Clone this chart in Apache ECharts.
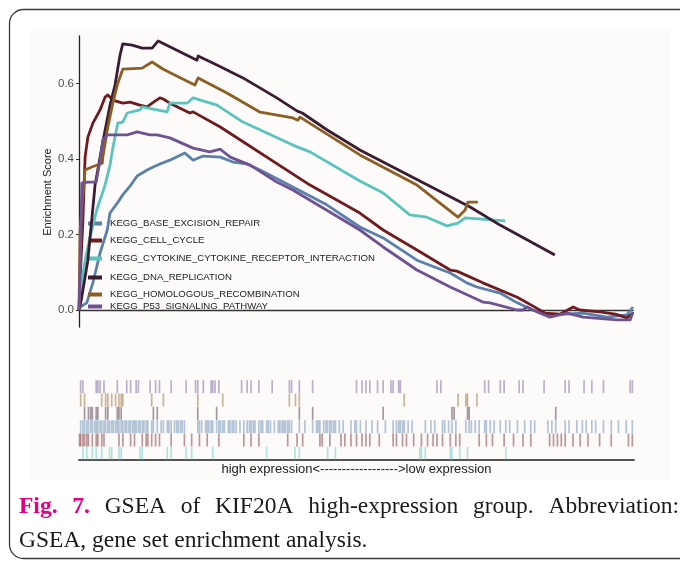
<!DOCTYPE html>
<html>
<head>
<meta charset="utf-8">
<script src="https://cdn.jsdelivr.net/npm/echarts@6/dist/echarts.min.js"></script>
<style>
  html, body { margin: 0; padding: 0; background: #fff; }
  #chart { width: 680px; height: 562px; }
</style>
</head>
<body>
<div id="chart"></div>
<script>
// gene sets, in legend order
const setNames = [
  'KEGG_BASE_EXCISION_REPAIR',
  'KEGG_CELL_CYCLE',
  'KEGG_CYTOKINE_CYTOKINE_RECEPTOR_INTERACTION',
  'KEGG_DNA_REPLICATION',
  'KEGG_HOMOLOGOUS_RECOMBINATION',
  'KEGG_P53_SIGNALING_PATHWAY'
]
const setColors = ['#5a80ab', '#6e1c20', '#5bc3bd', '#3b1c31', '#8d5e23', '#6f5290']

// running enrichment score: x = position in ranked list (%), y = ES
const baseX = [0,0.2,1.4,2.5,3.8,5.1,5.6,6.9,7.9,9.2,10.5,12.3,13.4,14.6,16.4,19.1,20.6,22.4,25.5,27.8,30.3,32.7,38.6,44.8,50.7,54.9,61.0,67.0,70.0,71.8,76.0,79.1,81.9,85.0,91.0,95.3,98.9,100]
const baseY = [0,0.008,0.019,0.072,0.151,0.212,0.257,0.283,0.305,0.328,0.355,0.371,0.379,0.387,0.397,0.416,0.397,0.408,0.405,0.392,0.387,0.371,0.326,0.278,0.220,0.191,0.132,0.098,0.072,0.061,0.045,0.019,0,-0.013,-0.008,-0.019,-0.013,0.008]

const cellX = [0,0.2,0.7,1.1,1.6,2.5,3.8,4.7,5.2,6.1,7.9,9.2,11.0,12.3,13.2,14.6,15.2,16.4,20.0,20.6,25.5,41.7,50.7,54.9,61.0,67.0,68.2,72.9,79.1,81.9,84.1,86.8,89.2,90.4,94.0,96.8,98.9,100]
const cellY = [0,0.079,0.238,0.405,0.458,0.495,0.530,0.564,0.570,0.556,0.548,0.551,0.543,0.538,0.548,0.562,0.559,0.548,0.522,0.525,0.485,0.331,0.257,0.212,0.159,0.106,0.103,0.072,0.034,0.011,-0.008,-0.011,0.008,0,-0.005,-0.011,-0.021,-0.008]

const cytoX = [0,0.5,1.3,2.0,3.2,4.7,5.6,6.1,7.0,7.9,8.7,11.0,11.4,15.9,16.4,19.5,20.6,24.9,29.6,38.6,41.7,50.7,54.9,59.7,62.8,66.4,68.4,69.7,76.9]
const cytoY = [0,0.079,0.146,0.193,0.265,0.331,0.384,0.429,0.495,0.498,0.522,0.530,0.538,0.525,0.548,0.548,0.562,0.543,0.498,0.437,0.419,0.342,0.310,0.252,0.246,0.223,0.230,0.244,0.236]

const dnaX = [0,0.4,1.6,2.9,4.3,5.6,6.5,7.4,7.9,9.6,11.4,13.2,14.3,21.3,21.5,24.9,29.6,35.7,39.4,40.3,44.8,50.7,70.6,76.0,85.9]
const dnaY = [0,0.026,0.132,0.331,0.445,0.543,0.596,0.675,0.705,0.702,0.694,0.694,0.713,0.662,0.673,0.649,0.615,0.562,0.527,0.522,0.477,0.424,0.273,0.225,0.146]

const homoX = [0,0.2,1.1,2.3,4.2,4.3,5.1,6.1,7.0,7.9,11.4,13.2,15.2,20.9,21.5,26.7,32.7,38.6,39.5,39.9,50.7,61.0,68.4,69.7,70.2,72.0]
const homoY = [0,0.212,0.371,0.379,0.389,0.405,0.477,0.548,0.601,0.638,0.641,0.657,0.638,0.596,0.615,0.575,0.524,0.509,0.503,0.511,0.411,0.331,0.246,0.265,0.286,0.286]

const p53X = [0,0.2,0.4,0.5,1.6,3.1,3.8,4.3,5.1,8.7,10.5,12.8,14.1,16.4,20.6,23.6,25.5,27.3,30.9,35.7,38.6,50.7,54.9,61.0,67.0,72.9,74.2,79.1,80.1,80.9,82.7,85.0,88.1,91.0,97.1,99.5,100]
const p53Y = [0,0.106,0.238,0.336,0.339,0.339,0.397,0.450,0.464,0.464,0.472,0.464,0.464,0.456,0.429,0.419,0.426,0.405,0.384,0.339,0.318,0.212,0.167,0.106,0.061,0.021,0.019,0,0,0.008,-0.005,-0.019,-0.008,-0.019,-0.026,-0.026,-0.005]

// hit positions (%) for the rug rows
const p53Hits = [0.3,0.7,3.1,3.4,3.8,4.5,6.9,8.6,9.3,10.3,10.7,12.8,13.8,14.5,16.6,19.3,21.0,21.4,22.4,23.8,24.1,24.5,25.2,29.3,30.3,31.0,32.4,34.8,37.9,38.3,39.7,42.1,50.0,51.0,51.7,52.4,53.8,54.8,56.2,56.6,57.6,57.9,64.5,65.2,73.1,73.8,75.9,76.6,79.3,80.0,83.8,87.6,88.3,91.0,92.4,94.5,99.3,99.7]
const homoHits = [0.3,1.0,4.1,4.8,5.2,5.9,6.6,7.2,7.6,7.9,13.1,15.2,21.4,25.9,37.9,39.0,39.7,58.6,68.3,69.7,70.0,71.7]
const dnaHits = [1.0,1.7,2.1,2.4,3.1,3.4,4.8,5.2,6.9,7.2,7.6,13.4,14.1,21.4,24.8,39.7,42.1,54.8,67.2,67.6,70.0,70.3,85.9]
const baseHits = [0.3,0.7,1.0,1.4,1.7,2.1,2.4,2.8,3.1,3.4,3.8,4.1,4.5,4.8,5.2,5.5,5.9,6.2,6.6,6.9,7.2,7.6,7.9,8.3,8.6,9.0,9.3,9.7,10.0,10.3,10.7,11.0,11.4,11.7,12.1,12.4,13.1,13.4,14.1,14.8,15.2,15.9,16.2,16.6,17.2,17.6,17.9,18.3,18.6,19.0,21.4,21.7,22.1,22.8,23.1,23.4,23.8,24.1,24.8,25.2,25.5,25.9,26.2,26.9,27.2,27.6,27.9,28.3,29.0,29.7,30.3,30.7,31.0,31.4,31.7,32.4,32.8,33.1,33.8,34.1,34.5,35.2,35.9,36.2,36.6,36.9,37.2,37.6,37.9,38.3,39.7,40.7,42.1,42.8,43.1,43.4,44.1,44.5,44.8,45.2,45.5,45.9,46.2,46.9,47.6,49.0,49.7,50.0,50.7,51.7,52.8,53.8,55.2,56.6,57.2,57.6,57.9,58.3,58.6,59.3,60.0,62.4,63.4,64.1,65.5,65.9,66.6,67.2,67.9,69.7,70.3,70.7,71.4,72.1,73.1,73.4,74.1,74.8,75.9,76.9,77.6,79.0,80.3,81.4,82.1,84.5,85.2,85.9,87.6,88.3,89.7,90.7,91.4,92.4,93.1,94.5,95.9,97.2,98.6,99.7]
const cellHits = [0.1,0.3,0.7,1.0,1.4,1.7,2.4,3.1,3.4,4.1,4.5,7.2,7.9,9.3,10.0,11.4,12.1,12.4,13.1,13.8,14.5,16.6,19.0,20.3,21.7,23.1,25.2,29.7,31.0,32.4,37.6,39.3,40.3,43.4,43.8,45.2,47.2,47.9,49.0,50.0,51.0,51.7,52.4,54.1,56.6,57.2,58.3,59.0,60.3,61.7,62.8,63.8,64.5,65.5,66.9,67.9,68.6,72.1,73.4,74.5,76.6,78.3,80.0,81.4,84.8,85.5,86.2,86.9,87.6,89.0,90.3,91.7,93.8,95.9,99.0,99.7]
const cytoHits = [0.7,1.4,2.4,3.1,4.1,5.5,5.9,7.2,7.6,11.0,11.4,15.9,16.6,19.3,20.3,24.1,33.8,38.9,39.7,44.8,46.2,61.4,61.7,62.4,66.9,67.2,68.6,70.0,76.9]

const esX = [baseX, cellX, cytoX, dnaX, homoX, p53X]
const esY = [baseY, cellY, cytoY, dnaY, homoY, p53Y]
// rug rows from top to bottom
const rugOrder = [5, 4, 3, 0, 1, 2]
const rugHits = [p53Hits, homoHits, dnaHits, baseHits, cellHits, cytoHits]
const yTicks = [0, 0.2, 0.4, 0.6]

const legendTops = [218.5, 235.5, 253.5, 272.5, 289.5, 301.5]

const chart = echarts.init(document.getElementById('chart'))
const font = '"Liberation Sans", Arial, sans-serif'
const serif = '"Liberation Serif", "Times New Roman", serif'

const lineSeries = setNames.map((name, i) => ({
  name,
  type: 'line',
  xAxisIndex: 0,
  yAxisIndex: 0,
  data: esX[i].map((x, j) => [x, esY[i][j]]),
  showSymbol: false,
  color: setColors[i],
  lineStyle: { width: 2.8, color: setColors[i], join: 'round' },
  silent: true,
  z: 3 + i
}))

const rugSeries = rugOrder.map((k, r) => ({
  name: 'rug_' + k,
  type: 'scatter',
  xAxisIndex: 1,
  yAxisIndex: 1,
  data: rugHits[r].map(x => [x, r]),
  symbol: 'rect',
  symbolSize: [1.7, 13],
  itemStyle: { color: setColors[k], opacity: 0.45 },
  silent: true
}))

const legends = setNames.map((name, i) => ({
  data: [name],
  left: 88,
  top: legendTops[i],
  icon: 'rect',
  itemWidth: 14,
  itemHeight: 4,
  padding: 0,
  selectedMode: false,
  textStyle: { fontFamily: font, fontSize: 9.6, color: '#222', padding: [0, 0, 0, 3] }
}))

// caption: line 1 is justified between the left margin and the right edge
const capSize = 23.5
const capLeft = 19
const capRight = 679
const cap1Words = ['Fig.', '7.', 'GSEA', 'of', 'KIF20A', 'high-expression', 'group.', 'Abbreviation:']
const cap1Bold = [true, true, false, false, false, false, false, false]
const ctx = document.createElement('canvas').getContext('2d')
const widths = cap1Words.map((w, i) => {
  ctx.font = (cap1Bold[i] ? 'bold ' : '') + capSize + 'px ' + serif
  return ctx.measureText(w).width
})
const gap = (capRight - capLeft - widths.reduce((a, b) => a + b, 0)) / (cap1Words.length - 1)
let cx = capLeft
const cap1 = cap1Words.map((w, i) => {
  const el = {
    type: 'text', x: cx, y: 507, silent: true,
    style: {
      text: w, fontFamily: serif, fontSize: capSize, fontWeight: cap1Bold[i] ? 'bold' : 'normal',
      fill: cap1Bold[i] ? '#e4007f' : '#1a1a1a', verticalAlign: 'middle'
    }
  }
  cx += widths[i] + gap
  return el
})

const option = {
  animation: false,
  backgroundColor: '#fff',
  grid: [
    { left: 79, right: 47, top: 36, height: 291 },
    { left: 79, right: 46, top: 380, height: 80 }
  ],
  xAxis: [
    {
      gridIndex: 0, type: 'value', min: 0, max: 100,
      axisLine: { show: true, onZero: true, lineStyle: { color: '#333', width: 1.3 } },
      axisTick: { show: false }, axisLabel: { show: false }, splitLine: { show: false }
    },
    {
      gridIndex: 1, type: 'value', min: 0, max: 100, position: 'bottom',
      axisLine: { show: true, onZero: false, lineStyle: { color: '#555', width: 2 } },
      axisTick: { show: false }, axisLabel: { show: false }, splitLine: { show: false },
      name: 'high expression<------------------>low expression',
      nameLocation: 'middle', nameGap: 3,
      nameTextStyle: { fontFamily: font, fontSize: 13, color: '#222', verticalAlign: 'top' }
    }
  ],
  yAxis: [
    {
      gridIndex: 0, type: 'value', min: -0.045, max: 0.726,
      axisLine: { show: true, lineStyle: { color: '#222', width: 1.3 } },
      axisTick: { show: true, customValues: yTicks, length: 3, lineStyle: { color: '#333' } },
      axisLabel: {
        customValues: yTicks, formatter: v => v.toFixed(1),
        fontFamily: font, fontSize: 11.5, color: '#4d4d4d', margin: 5
      },
      splitLine: { show: false }
    },
    {
      gridIndex: 1, type: 'value', min: -0.5, max: 5.5, inverse: true, show: false
    }
  ],
  legend: legends,
  graphic: [
    {
      type: 'rect', z: -10, silent: true,
      shape: { x: 30, y: 30, width: 640, height: 450 },
      style: { fill: '#fcfbfa' }
    },
    {
      type: 'rect', silent: true,
      shape: { x: 9.5, y: 9.5, width: 700, height: 549, r: 14 },
      style: { fill: null, stroke: '#3a3a3a', lineWidth: 1.3 }
    },
    {
      type: 'text', x: 48, y: 192, rotation: Math.PI / 2, silent: true,
      style: { text: 'Enrichment Score', fontFamily: font, fontSize: 11, fill: '#222', align: 'center', verticalAlign: 'middle' }
    },
    ...cap1,
    {
      type: 'text', x: capLeft, y: 541, silent: true,
      style: { text: 'GSEA, gene set enrichment analysis.', fontFamily: serif, fontSize: capSize, fill: '#1a1a1a', verticalAlign: 'middle' }
    }
  ],
  series: [...rugSeries, ...lineSeries]
}

chart.setOption(option)
window.addEventListener('resize', () => chart.resize())
</script>
</body>
</html>
